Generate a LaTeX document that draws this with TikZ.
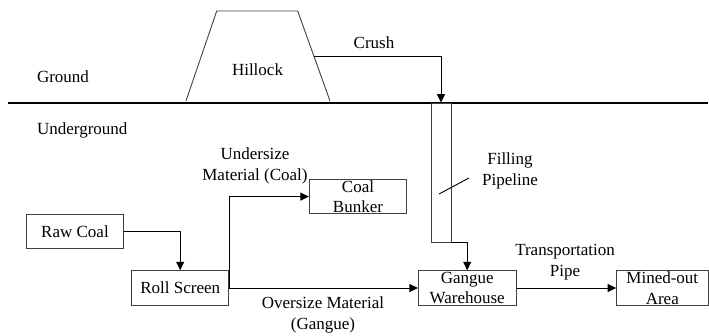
\documentclass[tikz,border=0pt]{standalone}
\usepackage{fontspec}
\setmainfont{Liberation Serif}
\usetikzlibrary{arrows.meta}
\begin{document}
\begin{tikzpicture}[x=1pt,y=-1pt,
  every node/.style={font=\fontsize{17}{20.5}\selectfont},
  box/.style={draw=black!75,line width=0.9pt,fill=white,minimum height=34.6pt,inner sep=0pt,align=center},
  lbl/.style={inner sep=0pt,align=center},
  conn/.style={line width=0.9pt,-{Triangle[length=8.5pt,width=8pt]}},
  plain/.style={line width=0.9pt}]
\useasboundingbox (0,0) rectangle (709,335);
% ground line
\coordinate (gl) at (8,103);
\coordinate (gr) at (708,103);
\draw[line width=1.1pt] (gl) -- (gr);
\node[lbl] (ground) at (63,76.5) {Ground};
\node[lbl] (under) at (82.3,130) {Underground};
% hillock
\draw[plain,draw=black!75] (186,101) -- (216.7,11) -- (297.7,11) -- (330,101);
\node[lbl] (hill) at (257.5,70) {Hillock};
\coordinate (hillside) at (314,56);
% pipe
\node[draw=black!75,line width=0.9pt,minimum width=20pt,minimum height=139pt,inner sep=0pt] (pipe) at (441,172.5) {};
\draw[conn] (hillside) -| (pipe.north);
\node[lbl] (crush) at (374,43) {Crush};
\node[lbl] (fill) at (510,171) {Filling\\Pipeline};
\coordinate (ld1) at (439,194);
\coordinate (ld2) at (469,178);
\draw[plain] (ld1) -- (ld2);
% boxes
\node[box,minimum width=96.6pt] (raw) at (75,231.3) {Raw Coal};
\node[box,minimum width=97pt] (roll) at (180.2,288) {Roll Screen};
\node[box,minimum width=97.4pt] (bunker) at (358,196.6) {Coal\\Bunker};
\node[box,minimum width=97.7pt] (gangue) at (467.2,288) {Gangue\\Warehouse};
\node[box,minimum width=91.3pt] (mined) at (662.3,288) {Mined-out\\Area};
% connectors
\draw[conn] (raw.east) -| (roll.north);
\draw[conn] (roll.east) -- (gangue.west);
\draw[conn] (roll.east) |- (bunker.west);
\draw[conn] (gangue.east) -- (mined.west);
\draw[conn] (pipe.south east) -| (gangue.north);
% labels
\node[lbl] (undersize) at (255,166) {Undersize\\Material (Coal)};
\node[lbl] (oversize) at (323,315) {Oversize Material\\(Gangue)};
\node[lbl] (transp) at (565,262) {Transportation\\Pipe};
\end{tikzpicture}
\end{document}
